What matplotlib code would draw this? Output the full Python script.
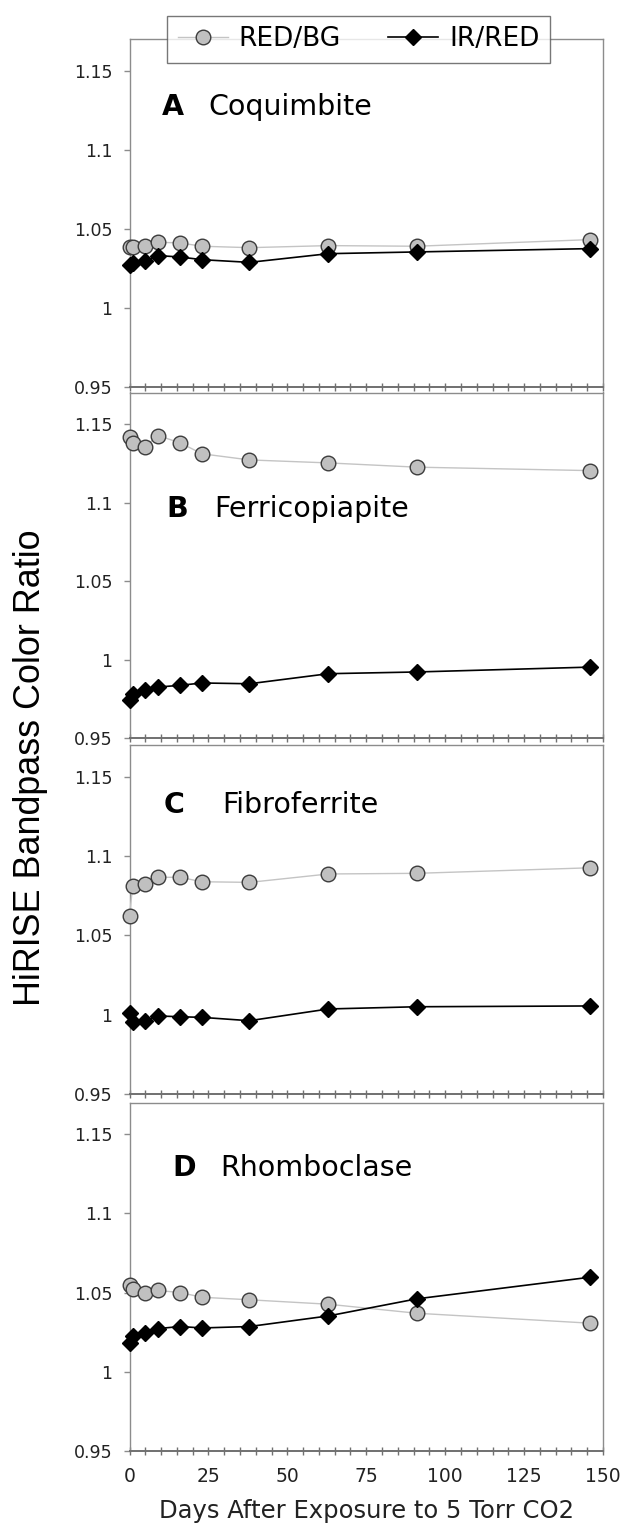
import numpy as np
import matplotlib
matplotlib.use("Agg")
import matplotlib.pyplot as plt
from matplotlib.ticker import MultipleLocator
from matplotlib.lines import Line2D

# days after exposure (same sampling for every sample)
days = [0, 1, 5, 9, 16, 23, 38, 63, 91, 146]

panel_letters = ["A", "B", "C", "D"]
minerals = ["Coquimbite", "Ferricopiapite", "Fibroferrite", "Rhomboclase"]

red_bg = [
    [1.0388, 1.0388, 1.0392, 1.0417, 1.0413, 1.0392, 1.0383, 1.0396, 1.0392, 1.0434],
    [1.1419, 1.1380, 1.1356, 1.1426, 1.1380, 1.1310, 1.1271, 1.1252, 1.1225, 1.1203],
    [1.0620, 1.0813, 1.0824, 1.0866, 1.0866, 1.0838, 1.0834, 1.0887, 1.0891, 1.0926],
    [1.0549, 1.0521, 1.0500, 1.0513, 1.0500, 1.0470, 1.0454, 1.0426, 1.0369, 1.0306],
]
ir_red = [
    [1.0271, 1.0286, 1.0297, 1.0333, 1.0324, 1.0307, 1.0290, 1.0345, 1.0356, 1.0377],
    [0.9742, 0.9780, 0.9805, 0.9826, 0.9837, 0.9852, 0.9847, 0.9911, 0.9922, 0.9953],
    [1.0008, 0.9952, 0.9962, 0.9992, 0.9987, 0.9983, 0.9962, 1.0036, 1.0050, 1.0055],
    [1.0184, 1.0222, 1.0243, 1.0272, 1.0285, 1.0276, 1.0285, 1.0352, 1.0460, 1.0597],
]

W, H = 626, 1528
fig = plt.figure(figsize=(W / 100, H / 100), dpi=100)

# panel frames in pixels (top, bottom)
frames = [(39.4, 387.3), (392.5, 738.3), (745.0, 1094.0), (1102.7, 1450.7)]
# label placement (letter x, name x, baseline y) in data units
label_pos = [(10.3, 25.1, 1.122), (11.6, 26.9, 1.091), (10.9, 29.3, 1.127), (13.5, 28.8, 1.1236)]

left, right = 129.5, 603.0
spine_col = "#8c8c8c"
circle_style = dict(color="#c4c4c4", lw=1.0, marker="o", ms=10.5,
                    mfc="#c0c0c0", mec="#3c3c3c", mew=1.0)
diamond_style = dict(color="black", lw=1.2, marker="D", ms=8,
                     mfc="black", mec="black")

for i in range(4):
    top, bot = frames[i]
    ax = fig.add_axes([left / W, 1 - bot / H, (right - left) / W, (bot - top) / H])
    ax.plot(days, red_bg[i], zorder=3, clip_on=False, **circle_style)
    ax.plot(days, ir_red[i], zorder=4, clip_on=False, **diamond_style)
    ax.set_xlim(0, 150)
    ax.set_ylim(0.95, 1.17)
    ax.set_yticks([0.95, 1.0, 1.05, 1.1, 1.15])
    ax.set_yticklabels(["0.95", "1", "1.05", "1.1", "1.15"])
    ax.xaxis.set_major_locator(MultipleLocator(25))
    ax.xaxis.set_minor_locator(MultipleLocator(5))
    for s in ax.spines.values():
        s.set_color(spine_col)
        s.set_linewidth(1.0)
    ax.spines["bottom"].set_color("#707070")
    ax.spines["bottom"].set_linewidth(1.4)
    ax.tick_params(axis="y", direction="out", length=4.5, width=1, color=spine_col,
                   labelsize=12.5, pad=8, labelcolor="#222222")
    ax.tick_params(axis="x", which="both", direction="inout", length=6, width=1,
                   color="#707070", labelsize=13.5, pad=9, labelcolor="#222222")
    if i < 3:
        ax.tick_params(axis="x", labelbottom=False)
    lx, nx, ly = label_pos[i]
    ax.text(lx, ly, panel_letters[i], fontsize=20.5, fontweight="bold", va="baseline")
    ax.text(nx, ly, minerals[i], fontsize=20.5, va="baseline")
    if i == 3:
        ax.set_xlabel("Days After Exposure to 5 Torr CO2", fontsize=17.5, labelpad=9,
                      color="#222222")
    if i == 0:
        handles = [Line2D([], [], **circle_style), Line2D([], [], **diamond_style)]
        leg = ax.legend(handles, ["RED/BG", "IR/RED"], ncol=2, loc="center",
                        bbox_to_anchor=((358.5 - left) / (right - left), (bot - 39.5) / (bot - top)),
                        frameon=True, fancybox=False, fontsize=19, handlelength=1.9,
                        columnspacing=1.8, handletextpad=0.4, borderpad=0.4)
        leg.get_frame().set_edgecolor("#555555")
        leg.get_frame().set_linewidth(1.0)
        leg.set_zorder(10)

fig.text(31 / W, 1 - 768 / H, "HiRISE Bandpass Color Ratio", rotation=90,
         ha="center", va="center", fontsize=25.8, family="Liberation Sans")

fig.savefig("out.png", dpi=100)
